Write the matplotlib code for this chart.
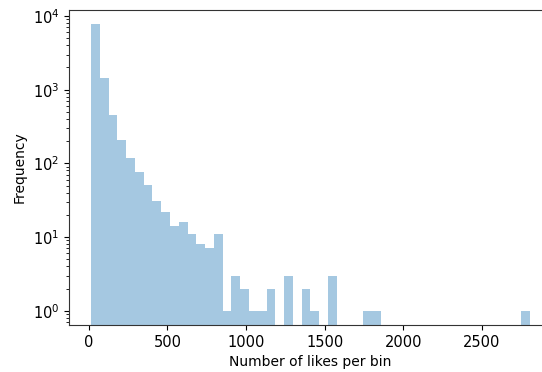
import numpy as np
import matplotlib
matplotlib.use("Agg")
import matplotlib.pyplot as plt

# like counts per bin (50 equal-width bins)
bin_lo = 13
bin_hi = 2806
counts = [7700, 1450, 460, 205, 120, 76, 51, 31, 22, 14,
          16, 11, 8, 7, 11, 1, 3, 2, 1, 1,
          2, 0, 3, 0, 2, 1, 0, 3, 0, 0,
          0, 1, 1, 0, 0, 0, 0, 0, 0, 0,
          0, 0, 0, 0, 0, 0, 0, 0, 0, 1]
xticks = [0, 500, 1000, 1500, 2000, 2500]

edges = np.linspace(bin_lo, bin_hi, len(counts) + 1)
centers = (edges[:-1] + edges[1:]) / 2

fig = plt.figure(figsize=(5.42, 3.72), dpi=100)
# axes run a little past the right edge of the canvas
ax = fig.add_axes([0.1273, 0.1263, 0.891, 0.8468])

ax.hist(centers, bins=edges, weights=counts, log=True,
        color="#1f77b4", alpha=0.4)

span = bin_hi - bin_lo
ax.set_xlim(bin_lo - 0.05 * span, bin_hi + 0.05 * span)
ax.set_ylim(10 ** -0.194, 10 ** 4.081)
ax.set_xticks(xticks)
ax.set_xlabel("Number of likes per bin", fontsize=10)
ax.set_ylabel("Frequency", fontsize=10)
ax.tick_params(labelsize=10.5)
ax.spines["right"].set_visible(False)
for s in ["left", "bottom", "top"]:
    ax.spines[s].set_color("#333333")

fig.savefig("out.png", dpi=100)
